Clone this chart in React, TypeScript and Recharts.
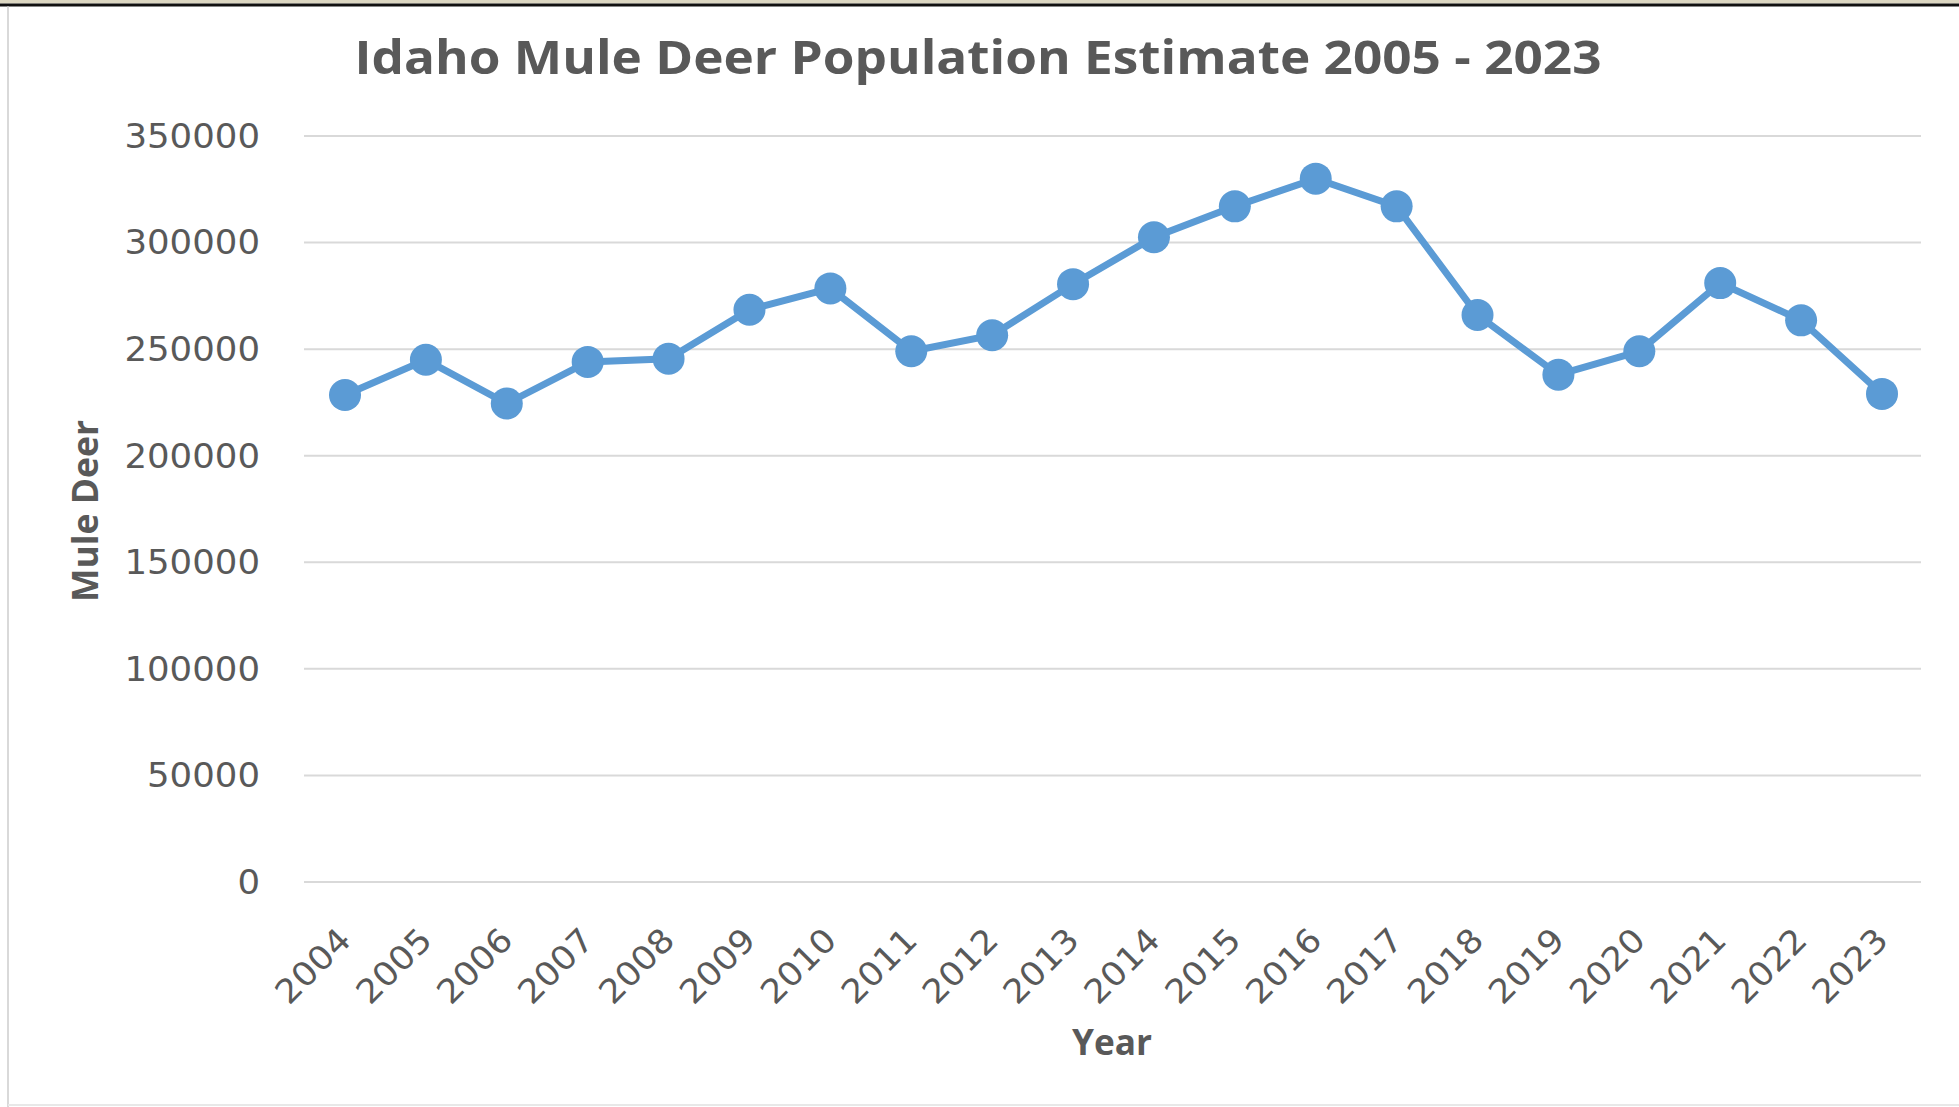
import React from 'react';
import { LineChart, Line, XAxis, YAxis, CartesianGrid } from 'recharts';

const years = ['2004','2005','2006','2007','2008','2009','2010','2011','2012','2013','2014','2015','2016','2017','2018','2019','2020','2021','2022','2023'];
const muleDeer = [228500, 245000, 224500, 244000, 245500, 268500, 278500, 249000, 256500, 280500, 302500, 317000, 330000, 317000, 266000, 238000, 249000, 281000, 263500, 229000];
const yTicks = [0, 50000, 100000, 150000, 200000, 250000, 300000, 350000];

const title = 'Idaho Mule Deer Population Estimate 2005 - 2023';
const xTitle = 'Year';
const yTitle = 'Mule Deer';

const data = years.map((y, i) => ({ year: y, deer: muleDeer[i] }));

const TEXT = '#595959';
const LINE = '#5B9BD5';
const DIGIT_W = 22.6;

const XTick = (props: any) => {
  const { x, y, payload } = props;
  const s = String(payload.value);
  const ex = x + 8;
  const ey = y + 60;
  return (
    <text x={ex} y={ey} textAnchor="end" transform={`rotate(-45 ${ex} ${ey})`}
      fontSize={33} fill={TEXT} fontFamily="DejaVu Sans"
      textLength={s.length * DIGIT_W} lengthAdjust="spacingAndGlyphs">{s}</text>
  );
};

const YTick = (props: any) => {
  const { x, y, payload } = props;
  const s = String(payload.value);
  return (
    <text x={x} y={y} dy="0.36em" textAnchor="end" fontSize={33} fill={TEXT} fontFamily="DejaVu Sans"
      textLength={s.length * DIGIT_W} lengthAdjust="spacingAndGlyphs">{s}</text>
  );
};

export default function App() {
  return (
    <div style={{ position: 'absolute', left: 0, top: 0, width: 1959, height: 1107, background: '#fff', overflow: 'hidden' }}>
      <LineChart width={1959} height={1107} data={data} margin={{ top: 136, right: 38, bottom: 125, left: 0 }}>
        <CartesianGrid vertical={false} stroke="#D9D9D9" strokeWidth={2} />
        <XAxis dataKey="year" type="category" interval={0} height={100} padding={{ left: 41, right: 39 }}
          axisLine={false} tickLine={false} tickSize={0} tickMargin={0} tick={<XTick />} />
        <YAxis type="number" domain={[0, 350000]} ticks={yTicks} width={304} axisLine={false} tickLine={false}
          tickSize={0} tickMargin={44} interval={0} tick={<YTick />} />
        <Line type="linear" dataKey="deer" stroke={LINE} strokeWidth={7} isAnimationActive={false}
          dot={{ r: 16, fill: LINE, stroke: LINE, strokeWidth: 0 }} activeDot={false} />
      </LineChart>
      <svg width={1959} height={1107} style={{ position: 'absolute', left: 0, top: 0, pointerEvents: 'none' }}>
        <rect x={0} y={0} width={1959} height={3.5} fill="#DCD7C2" />
        <rect x={0} y={3.5} width={1959} height={3} fill="#111" />
        <line x1={8} y1={6.5} x2={8} y2={1107} stroke="#D9D9D9" strokeWidth={2} />
        <line x1={8} y1={1105} x2={1959} y2={1105} stroke="#E8E8E8" strokeWidth={2} />
        <text x={978} y={74} textAnchor="middle" fontSize={47} fontWeight="bold" fill={TEXT} fontFamily="'Open Sans'"
          textLength={1247} lengthAdjust="spacingAndGlyphs">{title}</text>
        <text x={1112} y={1055} textAnchor="middle" fontSize={35} fontWeight="bold" fill={TEXT} fontFamily="'Open Sans'"
          textLength={80} lengthAdjust="spacingAndGlyphs">{xTitle}</text>
        <text transform="translate(98 511) rotate(-90)" textAnchor="middle" fontSize={35} fontWeight="bold" fill={TEXT} fontFamily="'Open Sans'"
          textLength={182} lengthAdjust="spacingAndGlyphs">{yTitle}</text>
      </svg>
    </div>
  );
}
